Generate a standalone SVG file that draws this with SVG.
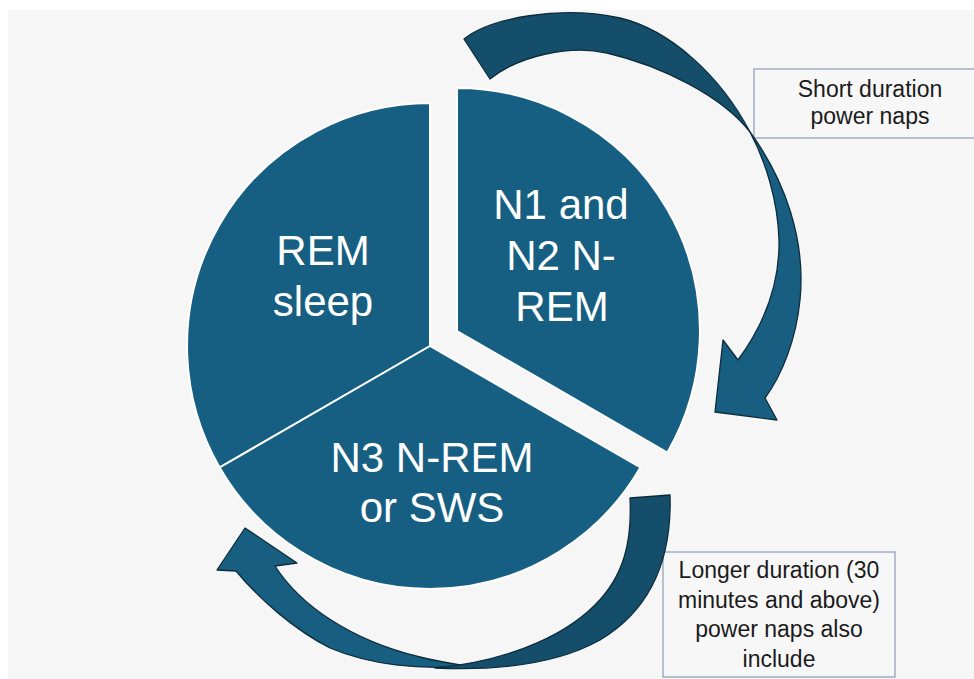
<svg xmlns="http://www.w3.org/2000/svg" width="974" height="679" viewBox="0 0 974 679">
  <style>
    .sector { fill: #175f82; stroke: #ffffff; stroke-width: 2; }
    .plabel { font-family: "Liberation Sans", Arial, sans-serif; font-size: 42px; fill: #ffffff; text-anchor: middle; }
    .box { fill: #f7f7f7; stroke: #8e9ab6; stroke-width: 1.2; }
    .blabel { font-family: "Liberation Sans", Arial, sans-serif; font-size: 23px; fill: #1b1b1b; text-anchor: middle; }
    .arrow-dark { fill: #144e6b; stroke: #0c2d3d; stroke-width: 1.3; stroke-linejoin: round; }
    .arrow-light { fill: #185e80; stroke: #0c2d3d; stroke-width: 1.3; stroke-linejoin: round; }
  </style>
  <rect x="0" y="0" width="974" height="679" fill="#ffffff"/>
  <rect x="8" y="10" width="966" height="669" fill="#f6f6f6"/>

  <g id="node-rem">
    <path class="sector" d="M430,346 L430,103 A243,243 0 0 0 219.6,467.5 Z"/>
    <text class="plabel" x="323" y="265">REM</text>
    <text class="plabel" x="323" y="316">sleep</text>
  </g>
  <g id="node-n3">
    <path class="sector" d="M430,346 L219.6,467.5 A243,243 0 0 0 640.4,467.5 Z"/>
    <text class="plabel" x="432" y="472">N3 N-REM</text>
    <text class="plabel" x="432" y="522">or SWS</text>
  </g>
  <g id="node-n1n2">
    <path class="sector" d="M457,331 L457,88 A243,243 0 0 1 667.4,452.5 Z"/>
    <text class="plabel" x="561" y="219">N1 and</text>
    <text class="plabel" x="561" y="270">N2 N-</text>
    <text class="plabel" x="562" y="321">REM</text>
  </g>

  <g id="box-short">
    <rect class="box" x="754" y="69" width="230" height="69"/>
    <text class="blabel" x="870" y="97">Short duration</text>
    <text class="blabel" x="870" y="124">power naps</text>
  </g>
  <g id="box-long">
    <rect class="box" x="663" y="552" width="232" height="125"/>
    <text class="blabel" x="779" y="578">Longer duration (30</text>
    <text class="blabel" x="779" y="608">minutes and above)</text>
    <text class="blabel" x="779" y="637">power naps also</text>
    <text class="blabel" x="779" y="667">include</text>
  </g>

  <g id="connectors">
    <!-- top arrow: short naps -->
    <path class="arrow-dark" d="M464,39 C490,18 560,5 620,18 C670,30 720,75 750,132 C722,96 662,66 607,53 C570,45 520,55 490,79 Z"/>
    <path class="arrow-light" d="M750,132 C785,180 806,240 800,300 C796,340 782,375 765,398 L777,420 L715,412 L723,340 L738,360 C760,330 780,290 779,240 C778,200 765,160 750,132 Z"/>
    <!-- bottom arrow: longer naps -->
    <path class="arrow-light" d="M467,666 C420,670 370,665 330,648 C295,630 260,600 236,571 L217,570 L245,528 L297,563 L275,566 C300,605 350,640 420,657 C440,662 455,664 467,666 Z"/>
    <path class="arrow-dark" d="M630,498 L670,495 C672,560 650,610 600,640 C550,668 480,670 435,668 C500,662 560,640 595,605 C625,575 632,540 630,498 Z"/>
  </g>
</svg>
